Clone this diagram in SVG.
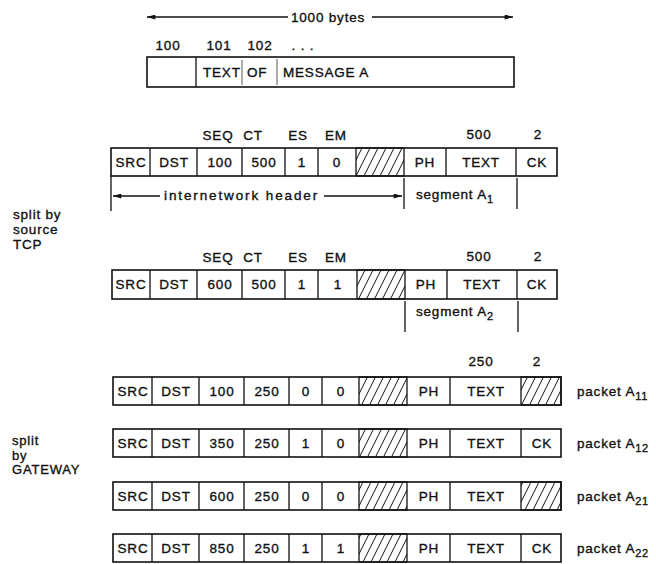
<svg xmlns="http://www.w3.org/2000/svg" width="656" height="564" viewBox="0 0 656 564">
<defs>
<style>
text{font-family:"Liberation Sans",Arial,sans-serif;font-size:13.5px;fill:#111;stroke:#111;stroke-width:0.35px;letter-spacing:0.8px}
.c{text-anchor:middle}
.box{fill:#fff;stroke:#111;stroke-width:1.6}
.div{stroke:#111;stroke-width:1.3}
.ln{stroke:#111;stroke-width:1.3;fill:none}
.hat{fill:url(#hatch);stroke:#111;stroke-width:1.3}
.sub{font-size:11px}
.sm{font-size:13px}
</style>
<pattern id="hatch" patternUnits="userSpaceOnUse" width="8" height="16">
<path d="M-4,16 L4,0 M4,16 L12,0" stroke="#111" stroke-width="1"/>
</pattern>
<marker id="ah" viewBox="0 0 10 6" markerWidth="11" markerHeight="5" refX="10" refY="3" markerUnits="userSpaceOnUse" orient="auto-start-reverse">
<path d="M0,0 L10,3 L0,6 z" fill="#111"/>
</marker>
</defs>
<rect width="656" height="564" fill="#fff"/>

<g id="message">
<rect class="box" x="147" y="57" width="367" height="30"/>
<line class="div" x1="196" y1="57" x2="196" y2="87"/>
<line x1="242" y1="60" x2="242" y2="85" stroke="#111" stroke-width="0.7"/>
<line x1="277" y1="59" x2="277" y2="85" stroke="#111" stroke-width="0.7"/>
<text y="77"><tspan x="203">TEXT</tspan><tspan x="247">OF</tspan><tspan x="283">MESSAGE A</tspan></text>
<text class="c" x="168" y="50">100</text>
<text class="c" x="219" y="50">101</text>
<text class="c" x="260" y="50">102</text>
<text class="c" x="303" y="50">. . .</text>
<text x="291" y="22">1000 bytes</text>
</g>

<g id="labels">
<text x="13" y="219">split by</text>
<text x="13" y="234">source</text>
<text x="13" y="249">TCP</text>
<text class="sm" x="12" y="445">split</text>
<text class="sm" x="12" y="459.5">by</text>
<text class="sm" x="12" y="474">GATEWAY</text>
</g>

<g id="row1">
<text class="c" x="218" y="140">SEQ</text>
<text class="c" x="253" y="140">CT</text>
<text class="c" x="298" y="140">ES</text>
<text class="c" x="336" y="140">EM</text>
<text class="c" x="479" y="139">500</text>
<text class="c" x="538" y="139">2</text>
<rect class="box" x="111" y="148" width="446" height="28"/>
<rect class="hat" x="356" y="148" width="48" height="28"/>
<path class="div" d="M150,148V176M197,148V176M242,148V176M285,148V176M318,148V176M446,148V176M516,148V176"/>
<g class="c">
<text x="131" y="167">SRC</text><text x="174" y="167">DST</text><text x="220" y="167">100</text><text x="264" y="167">500</text><text x="302" y="167">1</text><text x="337" y="167">0</text><text x="425" y="167">PH</text><text x="481" y="167">TEXT</text><text x="537" y="167">CK</text>
</g>
</g>

<g id="row2">
<text class="c" x="218" y="262">SEQ</text>
<text class="c" x="253" y="262">CT</text>
<text class="c" x="298" y="262">ES</text>
<text class="c" x="336" y="262">EM</text>
<text class="c" x="479" y="261">500</text>
<text class="c" x="538" y="261">2</text>
<rect class="box" x="112" y="270" width="445" height="29"/>
<rect class="hat" x="357" y="270" width="48" height="29"/>
<path class="div" d="M150,270V299M197,270V299M242,270V299M285,270V299M318,270V299M447,270V299M517,270V299"/>
<g class="c">
<text x="131" y="289">SRC</text><text x="174" y="289">DST</text><text x="220" y="289">600</text><text x="264" y="289">500</text><text x="302" y="289">1</text><text x="338" y="289">1</text><text x="426" y="289">PH</text><text x="482" y="289">TEXT</text><text x="537" y="289">CK</text>
</g>
</g>

<g id="row3">
<text class="c" x="481" y="366">250</text>
<text class="c" x="537" y="366">2</text>
<rect class="box" x="113" y="377" width="448" height="28"/>
<rect class="hat" x="359" y="377" width="48" height="28"/>
<rect class="hat" x="521" y="377" width="40" height="28"/>
<path class="div" d="M152,377V405M199,377V405M244,377V405M289,377V405M322,377V405M450,377V405"/>
<g class="c">
<text x="133" y="396">SRC</text><text x="176" y="396">DST</text><text x="222" y="396">100</text><text x="267" y="396">250</text><text x="306" y="396">0</text><text x="341" y="396">0</text><text x="429" y="396">PH</text><text x="486" y="396">TEXT</text>
</g>
<text x="577" y="396">packet A<tspan class="sub" dy="4">11</tspan></text>
</g>

<g id="row4">
<rect class="box" x="113" y="429" width="448" height="28"/>
<rect class="hat" x="359" y="429" width="48" height="28"/>
<path class="div" d="M152,429V457M199,429V457M244,429V457M289,429V457M322,429V457M450,429V457M521,429V457"/>
<g class="c">
<text x="133" y="448">SRC</text><text x="176" y="448">DST</text><text x="222" y="448">350</text><text x="267" y="448">250</text><text x="306" y="448">1</text><text x="341" y="448">0</text><text x="429" y="448">PH</text><text x="486" y="448">TEXT</text><text x="542" y="448">CK</text>
</g>
<text x="577" y="448">packet A<tspan class="sub" dy="4">12</tspan></text>
</g>

<g id="row5">
<rect class="box" x="113" y="482" width="448" height="28"/>
<rect class="hat" x="359" y="482" width="48" height="28"/>
<rect class="hat" x="521" y="482" width="40" height="28"/>
<path class="div" d="M152,482V510M199,482V510M244,482V510M289,482V510M322,482V510M450,482V510"/>
<g class="c">
<text x="133" y="501">SRC</text><text x="176" y="501">DST</text><text x="222" y="501">600</text><text x="267" y="501">250</text><text x="306" y="501">0</text><text x="341" y="501">0</text><text x="429" y="501">PH</text><text x="486" y="501">TEXT</text>
</g>
<text x="577" y="501">packet A<tspan class="sub" dy="4">21</tspan></text>
</g>

<g id="row6">
<rect class="box" x="113" y="534" width="448" height="28"/>
<rect class="hat" x="359" y="534" width="48" height="28"/>
<path class="div" d="M152,534V562M199,534V562M244,534V562M289,534V562M322,534V562M450,534V562M521,534V562"/>
<g class="c">
<text x="133" y="553">SRC</text><text x="176" y="553">DST</text><text x="222" y="553">850</text><text x="267" y="553">250</text><text x="306" y="553">1</text><text x="341" y="553">1</text><text x="429" y="553">PH</text><text x="486" y="553">TEXT</text><text x="542" y="553">CK</text>
</g>
<text x="577" y="553">packet A<tspan class="sub" dy="4">22</tspan></text>
</g>

<g id="connectors">
<line class="ln" x1="147" y1="17" x2="288" y2="17" marker-start="url(#ah)"/>
<line class="ln" x1="372" y1="17" x2="513" y2="17" marker-end="url(#ah)"/>
<line class="ln" x1="111" y1="176" x2="111" y2="211"/>
<line class="ln" x1="113" y1="196" x2="160" y2="196" marker-start="url(#ah)"/>
<text x="164" y="200" textLength="154">internetwork header</text>
<line class="ln" x1="324" y1="196" x2="402" y2="196" marker-end="url(#ah)"/>
<line class="ln" x1="404" y1="178" x2="404" y2="209"/>
<line class="ln" x1="517" y1="178" x2="517" y2="209"/>
<text x="416" y="199">segment A<tspan class="sub" dy="4">1</tspan></text>
<line class="ln" x1="405" y1="301" x2="405" y2="332"/>
<line class="ln" x1="518" y1="301" x2="518" y2="332"/>
<text x="416" y="316">segment A<tspan class="sub" dy="4">2</tspan></text>
</g>
</svg>
